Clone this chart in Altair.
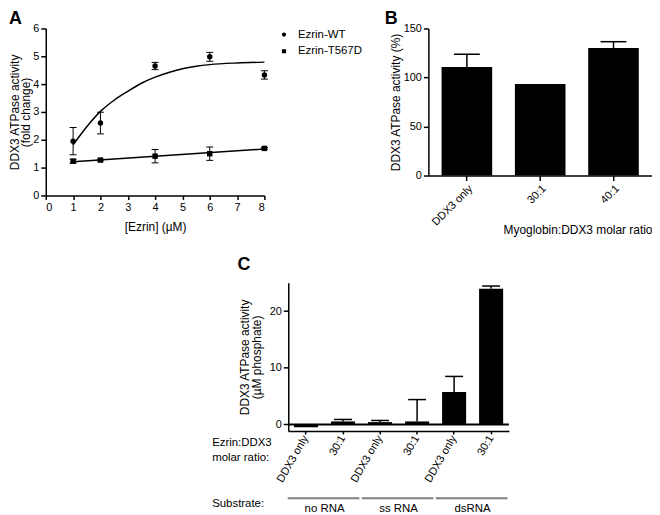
import altair as alt
import pandas as pd

FONT = "Liberation Sans"

# ---------------- Panel A data ----------------
series_names = ["Ezrin-WT", "Ezrin-T567D"]
conc = [1, 2, 4, 6, 8]
wt_mean = [1.95, 2.60, 4.65, 4.98, 4.33]
wt_err = [0.49, 0.39, 0.13, 0.16, 0.15]
mut_mean = [1.23, 1.27, 1.41, 1.50, 1.69]
mut_err = [0.07, 0.03, 0.24, 0.24, 0.03]
wt_fit_x = [1, 1.5, 2, 2.5, 3, 3.5, 4, 4.5, 5, 5.5, 6, 7, 8]
wt_fit_y = [1.82, 2.47, 3.02, 3.42, 3.74, 4.03, 4.25, 4.42, 4.55, 4.64, 4.70, 4.76, 4.79]
mut_fit_x = [1, 8]
mut_fit_y = [1.21, 1.67]
a_ticks_x = [0, 1, 2, 3, 4, 5, 6, 7, 8]
a_ticks_y = [0, 1, 2, 3, 4, 5, 6]

# ---------------- Panel B data ----------------
b_labels = ["DDX3 only", "30:1", "40:1"]
b_values = [110.8, 93.3, 130.1]
b_errors = [12.9, 0.0, 6.4]
b_ticks = [0, 50, 100, 150]

# ---------------- Panel C data ----------------
c_substrates = ["no RNA", "ss RNA", "dsRNA"]
c_ratios = ["DDX3 only", "30:1"]
c_values = [-0.5, 0.53, 0.41, 0.53, 5.73, 23.98]
c_errors = [0.0, 0.35, 0.29, 3.86, 2.75, 0.46]
c_ticks = [0, 5, 10, 15, 20, 25]
c_row_label = "Ezrin:DDX3\nmolar ratio:"
c_substrate_label = "Substrate:"

# ---------------- tables ----------------
pts = pd.DataFrame({
    "series": [series_names[0]] * len(conc) + [series_names[1]] * len(conc),
    "conc": conc + conc,
    "y": wt_mean + mut_mean,
    "err": wt_err + mut_err,
})
pts["lo"] = pts["y"] - pts["err"]
pts["hi"] = pts["y"] + pts["err"]

fit = pd.DataFrame({
    "series": [series_names[0]] * len(wt_fit_x) + [series_names[1]] * len(mut_fit_x),
    "conc": wt_fit_x + mut_fit_x,
    "y": wt_fit_y + mut_fit_y,
})

dfb = pd.DataFrame({"cat": b_labels, "val": b_values, "err": b_errors})
dfb["hi"] = dfb["val"] + dfb["err"]

c_ids = [f"{s}|{r}" for s in c_substrates for r in c_ratios]
dfc = pd.DataFrame({"id": c_ids, "val": c_values, "err": c_errors})
dfc["hi"] = dfc["val"] + dfc["err"]
dfg = pd.DataFrame({
    "group": c_substrates,
    "start": [f"{s}|{c_ratios[0]}" for s in c_substrates],
    "end": [f"{s}|{c_ratios[1]}" for s in c_substrates],
})

one = alt.Data(values=[{}])

def panel_label(letter, x, y):
    return alt.Chart(one).mark_text(
        text=letter, fontSize=18, fontWeight="bold", align="left",
        baseline="top", color="black", font=FONT
    ).encode(x=alt.value(x), y=alt.value(y))

# ---------------- Panel A ----------------
A_W, A_H = 220, 168
a_ytitle = ["DDX3 ATPase activity", "(fold change)"]
xs = alt.Scale(domain=[0, 8], nice=False)
ys = alt.Scale(domain=[0, 6], nice=False)
xa = alt.X("conc:Q", scale=xs, title="[Ezrin] (µM)",
           axis=alt.Axis(values=a_ticks_x, titlePadding=9, tickSize=4))
def ya(field):
    return alt.Y(field, scale=ys, title=a_ytitle,
                 axis=alt.Axis(values=a_ticks_y, titlePadding=0, titleLineHeight=11))

a_lines = alt.Chart(fit).mark_line(color="black", strokeWidth=1.5, interpolate="monotone").encode(
    x=xa, y=ya("y:Q"), detail="series:N")
a_rules = alt.Chart(pts).mark_rule(color="black", strokeWidth=1).encode(
    x=xa, y=ya("lo:Q"), y2="hi:Q")
a_caps = alt.Chart(pts).transform_fold(["lo", "hi"], as_=["k", "v"]).mark_tick(
    color="black", orient="horizontal", size=7, thickness=1, opacity=1).encode(
    x=xa, y=ya("v:Q"))
a_pts = alt.Chart(pts).mark_point(filled=True, color="black", opacity=1, size=30).encode(
    x=xa, y=ya("y:Q"),
    shape=alt.Shape("series:N", scale=alt.Scale(domain=series_names, range=["circle", "square"]),
                    legend=None))
circ = "M-1,0H1M0.3,0A0.3,0.3,0,1,1,-0.3,0A0.3,0.3,0,1,1,0.3,0Z"
sq = "M-1,0H1M-0.3,-0.3H0.3V0.3H-0.3Z"
a_leg = alt.Chart(pts).transform_filter("false").mark_point(
    filled=True, color="black", stroke="black", strokeWidth=1.5, opacity=1).encode(
    x=xa, y=ya("y:Q"),
    shape=alt.Shape("series:N", scale=alt.Scale(domain=series_names, range=[circ, sq]),
                    legend=alt.Legend(title=None, orient="none", legendX=231.7, legendY=-1.8,
                                      symbolSize=196, labelOffset=6, rowPadding=2.7, padding=0,
                                      labelFontSize=11.5, labelFont=FONT, labelColor="black",
                                      symbolStrokeWidth=1.5, symbolStrokeColor="black",
                                      symbolFillColor="black", symbolOpacity=1)))
A = alt.layer(a_lines, a_rules, a_caps, a_pts, a_leg, panel_label("A", -37, -18.5)).resolve_scale(
    shape="independent").properties(width=A_W, height=A_H)

# ---------------- Panel B ----------------
B_W, B_H = 225, 148
xb = alt.X("cat:N", sort=b_labels,
           scale=alt.Scale(domain=b_labels, paddingInner=0.31, paddingOuter=0.18),
           title="Myoglobin:DDX3 molar ratio",
           axis=alt.Axis(labelAngle=-45, titleX=B_W, titleY=58, titleAlign="right",
                         titleBaseline="alphabetic", titleAnchor="end"))
def yb(field):
    return alt.Y(field, scale=alt.Scale(domain=[0, 150], nice=False),
                 title="DDX3 ATPase activity (%)",
                 axis=alt.Axis(values=b_ticks, titlePadding=1))
b_bars = alt.Chart(dfb).mark_bar(color="black").encode(x=xb, y=yb("val:Q"))
b_rules = alt.Chart(dfb).transform_filter("datum.err > 0").mark_rule(
    color="black", strokeWidth=1.5).encode(x=xb, y=yb("val:Q"), y2="hi:Q")
b_caps = alt.Chart(dfb).transform_filter("datum.err > 0").mark_tick(
    color="black", size=26, thickness=1.5, opacity=1).encode(x=xb, y=yb("hi:Q"))
B = alt.layer(b_bars, b_rules, b_caps, panel_label("B", -44, -18.5)).properties(width=B_W, height=B_H)

# ---------------- Panel C ----------------
C_W, C_H = 222, 149
cscale = alt.Scale(domain=c_ids, paddingInner=0.35, paddingOuter=0.155)
xc = alt.X("id:N", sort=c_ids, scale=cscale, title=None,
           axis=alt.Axis(labelAngle=-60, labelExpr="split(datum.value, '|')[1]", tickSize=3))
def yc(field):
    return alt.Y(field, scale=alt.Scale(domain=[-1.15, 25], nice=False),
                 title=["DDX3 ATPase activity", "(µM phosphate)"],
                 axis=alt.Axis(values=c_ticks, titlePadding=6, titleLineHeight=12))
c_bars = alt.Chart(dfc).mark_bar(color="black").encode(x=xc, y=yc("val:Q"))
c_rules = alt.Chart(dfc).transform_filter("datum.err > 0").mark_rule(
    color="black", strokeWidth=1.5).encode(x=xc, y=yc("val:Q"), y2="hi:Q")
c_caps = alt.Chart(dfc).transform_filter("datum.err > 0").mark_tick(
    color="black", size=18, thickness=1.5, opacity=1).encode(x=xc, y=yc("hi:Q"))
c_zero = alt.Chart(one).mark_rule(color="black", strokeWidth=2).encode(y=alt.datum(0))
c_glines = alt.Chart(dfg).mark_rule(color="#7f7f7f", strokeWidth=2, xOffset=-6.3, x2Offset=4.3).encode(
    x=alt.X("start:N", scale=cscale, bandPosition=0, title=None),
    x2=alt.X2("end:N", bandPosition=1),
    y=alt.value(216.7))
c_glabels = alt.Chart(dfg).mark_text(
    dx=6.5, align="center", baseline="alphabetic", fontSize=11.5, color="black", font=FONT).encode(
    x=alt.X("start:N", scale=cscale, bandPosition=1, title=None),
    y=alt.value(230.7), text="group:N")
c_rowlab = alt.Chart(one).mark_text(
    text=c_row_label, lineBreak="\n", lineHeight=16, align="left", baseline="alphabetic",
    fontSize=11.5, color="black", font=FONT).encode(x=alt.value(-76.6), y=alt.value(163.7))
c_sublab = alt.Chart(one).mark_text(
    text=c_substrate_label, align="left", baseline="alphabetic",
    fontSize=11.5, color="black", font=FONT).encode(x=alt.value(-76.6), y=alt.value(225.7))
C = alt.layer(c_bars, c_rules, c_caps, c_zero, c_glines, c_glabels, c_rowlab, c_sublab,
              panel_label("C", -51, -26.6)).properties(width=C_W, height=C_H)

SP_W = 167
spacer = alt.Chart(one).mark_rect(opacity=0).encode(
    x=alt.value(0), x2=alt.value(SP_W), y=alt.value(0), y2=alt.value(1)
).properties(width=SP_W, height=1)

row1 = alt.hconcat(A, B, spacing=165, bounds="flush")
row2 = alt.hconcat(spacer, C, spacing=0, bounds="full")
chart = alt.vconcat(row1, row2, spacing=21, bounds="full").properties(padding=0).configure(
    font=FONT).configure_view(stroke=None).configure_axis(
    domainColor="black", domainWidth=1.5, tickColor="black", tickWidth=1.5,
    labelColor="black", titleColor="black", labelFont=FONT, titleFont=FONT,
    labelFontSize=11, titleFontSize=12, titleFontWeight="normal", grid=False,
    labelPadding=2, labelOverlap=False)

chart.save("out.html", embed_options={"renderer": "svg", "actions": False})
